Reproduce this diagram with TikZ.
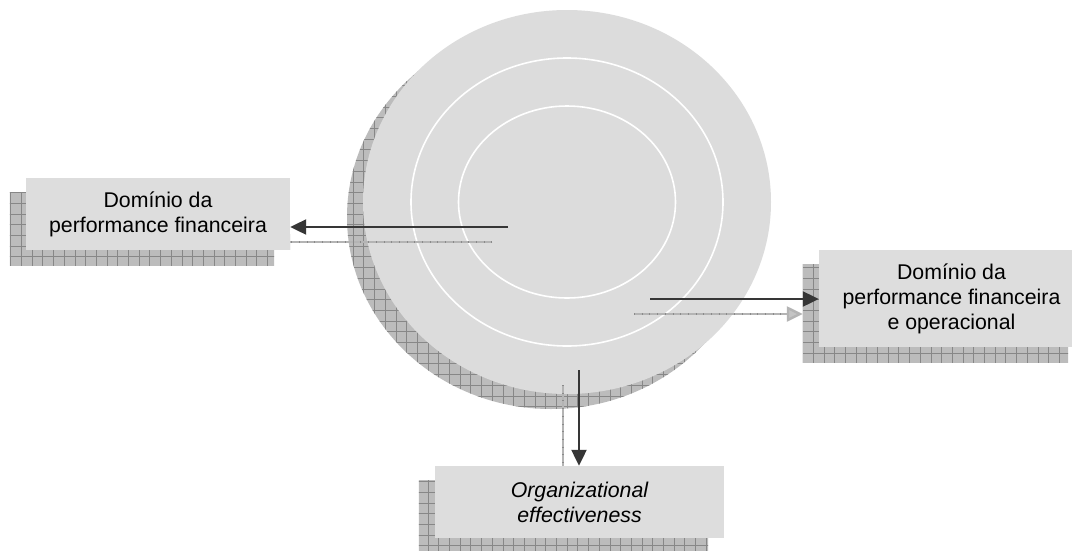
\documentclass[tikz,border=0pt]{standalone}
\usepackage{fontspec}
\setmainfont{Liberation Sans}
\usetikzlibrary{arrows.meta,calc}

\definecolor{discfill}{HTML}{DCDCDC}
\definecolor{boxfill}{HTML}{DDDDDD}
\definecolor{shadefill}{HTML}{BCBCBC}
\definecolor{shadegrid}{HTML}{878787}
\definecolor{arrowink}{HTML}{363636}
\definecolor{ghostline}{HTML}{B4B4B4}
\definecolor{ghosttick}{HTML}{8A8A8A}
\definecolor{ghosthead}{HTML}{C4C4C4}

\pgfdeclarelayer{back}
\pgfdeclarelayer{ghost}
\pgfsetlayers{back,ghost,main}

% cross-hatched drop shadow: grey fill with a square grid, clipped to a path
\newcommand{\hatched}[1]{%
  \begin{scope}
    \clip #1;
    \fill[shadefill] (0,0) rectangle (1072,560);
    \draw[shadegrid, line width=0.8pt, step=10.7pt] (0,560) grid (1072,0);
  \end{scope}}

\tikzset{
  areabox/.style={fill=boxfill, inner sep=0pt, align=center, text=black,
    font=\fontsize{21.3}{25}\selectfont},
  flowarrow/.style={draw=arrowink, line width=2.2pt,
    -{Triangle[length=16pt,width=15pt,fill=arrowink]}},
  ghostarrow/.style={draw=ghostline, line width=2.4pt,
    -{Triangle[length=16pt,width=15pt,fill=ghosthead,color=ghostline,fill=ghosthead]},
    postaction={draw=ghosttick, line width=2.4pt, dash pattern=on 0.7pt off 7pt, -,
      shorten >=16pt}},
  ringline/.style={draw=white, line width=1.6pt},
}

\begin{document}
\begin{tikzpicture}[x=1pt, y=-1pt]
  \useasboundingbox (0,0) rectangle (1072,550);

  % the target disc with its two inner rings
  \coordinate (core) at (567,202);
  \begin{pgfonlayer}{back}
    \fill[white] (0,0) rectangle (1072,550);
    \hatched{($(core)+(-16,15)$) ellipse [x radius=204pt, y radius=192pt]}
    \fill[discfill] (core) ellipse [x radius=204pt, y radius=192pt];
    \draw[ringline] (core) ellipse [x radius=156pt, y radius=144pt];
    \draw[ringline] (core) ellipse [x radius=108.5pt, y radius=96pt];
  \end{pgfonlayer}

  % domain boxes
  \node[areabox, minimum width=264pt, minimum height=72pt] (lb) at (158,214)
    {Domínio da\\performance financeira};
  \node[areabox, minimum width=265pt, minimum height=97pt] (rb) at (951.5,298.5)
    {Domínio da\\performance financeira\\e operacional};
  \node[areabox, minimum width=289pt, minimum height=72pt, font=\fontsize{21.3}{25}\selectfont\itshape]
    (bb) at (579.5,502) {Organizational\\effectiveness};

  % arrow origins inside the disc
  \coordinate (lsrc) at (508,227);
  \coordinate (rsrc) at (650,299);
  \coordinate (bsrc) at (579,370);

  % box shadows and arrow shadows
  \begin{pgfonlayer}{back}
    \hatched{($(lb.south west)+(-16,15)$) rectangle ($(lb.north east)+(-16,15)$)}
    \hatched{($(rb.south west)+(-16,15)$) rectangle ($(rb.north east)+(-16,15)$)}
    \hatched{($(bb.south west)+(-16,15)$) rectangle ($(bb.north east)+(-16,15)$)}
  \end{pgfonlayer}
  \begin{pgfonlayer}{ghost}
    \draw[ghostarrow] ($(lsrc)+(-16,15)$) -- ($(lsrc -| lb.east)+(-16,15)$);
    \draw[ghostarrow] ($(rsrc)+(-16,15)$) -- ($(rsrc -| rb.west)+(-16,15)$);
    \draw[ghostarrow] ($(bsrc)+(-16,15)$) -- ($(bsrc |- bb.north)+(-16,17)$);
  \end{pgfonlayer}

  % arrows from the disc to the domains
  \draw[flowarrow] (lsrc) -- (lsrc -| lb.east);
  \draw[flowarrow] (rsrc) -- (rsrc -| rb.west);
  \draw[flowarrow] (bsrc) -- (bsrc |- bb.north);
\end{tikzpicture}
\end{document}
